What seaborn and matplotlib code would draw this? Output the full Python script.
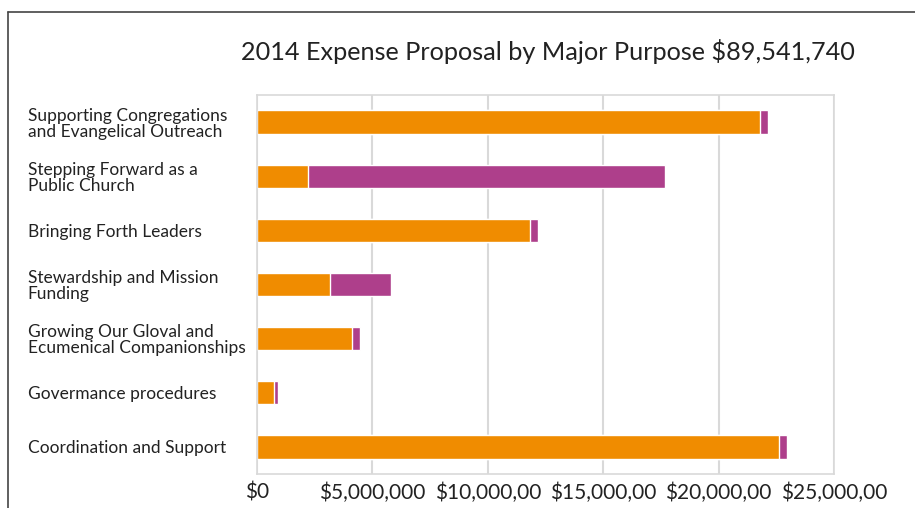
import numpy as np
import pandas as pd
import matplotlib
matplotlib.use('Agg')
import matplotlib.pyplot as plt
import seaborn as sns

purposes = ['Supporting Congregations\nand Evangelical Outreach',
            'Stepping Forward as a\nPublic Church',
            'Bringing Forth Leaders',
            'Stewardship and Mission\nFunding',
            'Growing Our Gloval and\nEcumenical Companionships',
            'Govermance procedures',
            'Coordination and Support']
part_a = [21800000, 2200000, 11830000, 3170000, 4120000, 740000, 22610000]
part_b = [330000, 15470000, 340000, 2640000, 350000, 170000, 360000]
xtick_vals = [0, 5000000, 10000000, 15000000, 20000000, 25000000]
xtick_labels = ['$0', '$5,000,000', '$10,000,00', '$15,000,00', '$20,000,00', '$25,000,00']
title = '2014 Expense Proposal by Major Purpose $89,541,740'

orange = '#F08C00'
purple = '#AE3F8B'
grid_c = '#D9D9D9'

sns.set_theme(style='white')
plt.rcParams['font.family'] = ['Lato', 'DejaVu Sans']

df = pd.DataFrame({'purpose': purposes, 'a': part_a, 'b': part_b})
df['total'] = df['a'] + df['b']

fig = plt.figure(figsize=(9.15, 5.08), dpi=100)
ax = fig.add_axes([257 / 915, 1 - 474 / 508, (834 - 257) / 915, (474 - 95) / 508])

# purple = full total, orange drawn on top -> stacked look
sns.barplot(data=df, y='purpose', x='total', color=purple, width=0.43,
            orient='h', ax=ax, saturation=1)
sns.barplot(data=df, y='purpose', x='a', color=orange, width=0.43,
            orient='h', ax=ax, saturation=1)

ax.set_xlim(0, 25000000)
ax.set_ylim(6.5, -0.5)
ax.set_xticks(xtick_vals)
ax.set_xticklabels(xtick_labels, fontsize=15, color='#222222')
ax.set_xlabel('')
ax.set_ylabel('')
ax.grid(axis='x', color=grid_c, linewidth=1.5)
ax.set_axisbelow(True)
for s in ax.spines.values():
    s.set_color(grid_c)
    s.set_linewidth(1.2)
ax.tick_params(axis='both', length=0)
ax.tick_params(axis='x', pad=6)
ax.tick_params(axis='y', pad=165)
for lbl in ax.get_yticklabels():
    lbl.set_horizontalalignment('left')
    lbl.set_fontsize(12.5)
    lbl.set_color('#222222')
    lbl.set_linespacing(1.0)

fig.text(548 / 915, 1 - 52 / 508, title, ha='center', va='center',
         fontsize=18.2, color='#222222')

# outer frame (left and top edges visible)
fig.add_artist(plt.Line2D([8 / 915, 8 / 915], [0, 1 - 12 / 508], transform=fig.transFigure,
                          color='#444444', linewidth=1.2))
fig.add_artist(plt.Line2D([8 / 915, 1], [1 - 12 / 508, 1 - 12 / 508], transform=fig.transFigure,
                          color='#444444', linewidth=1.2))

fig.savefig('out.png', dpi=100)
